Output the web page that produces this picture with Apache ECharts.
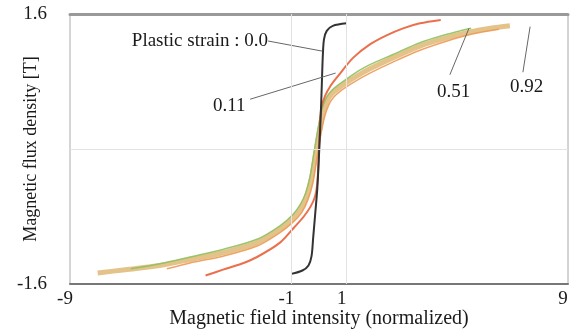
<!DOCTYPE html>
<html lang="en">
<head>
    <meta charset="utf-8">
    <title>Magnetization curves</title>
    <script type="text/javascript" src="https://cdn.jsdelivr.net/npm/echarts@6/dist/echarts.min.js"></script>
    <style>
        html, body { margin: 0; padding: 0; background: #fff; }
        #main { width: 576px; height: 336px; }
    </style>
</head>
<body>
<div id="main"></div>
<script>
    // tick labels shown on the axes
    var xTickLabels = [-9, -1, 1, 9];
    var yTickLabels = [-1.6, 1.6];

    // curves: [H (normalized), B (T)]
    var strain00 = [[-1.0, -1.48], [-0.6, -1.44], [-0.38, -1.38], [-0.27, -1.27], [-0.21, -1.05], [-0.14, -0.78],
        [-0.06, -0.46], [0.01, 0], [0.07, 0.46], [0.11, 0.85], [0.14, 1.12], [0.18, 1.3], [0.28, 1.4],
        [0.5, 1.46], [1.0, 1.49]];
    var strain011 = [[-4.1, -1.5], [-3.47, -1.43], [-2.8, -1.36], [-2.24, -1.28], [-1.41, -1.11], [-0.9, -0.93],
        [-0.55, -0.8], [-0.3, -0.68], [-0.14, -0.56], [-0.06, -0.4], [-0.01, -0.1], [0.03, 0.25], [0.08, 0.48],
        [0.22, 0.63], [0.42, 0.75], [0.7, 0.87], [1.23, 1.08], [1.84, 1.24], [2.46, 1.35], [3.04, 1.43],
        [3.65, 1.49], [4.4, 1.53]];
    var strain092 = [[-8.0, -1.47], [-7.0, -1.43], [-5.75, -1.38], [-4.66, -1.31], [-3.47, -1.23], [-2.24, -1.11],
        [-1.41, -0.95], [-0.95, -0.82], [-0.65, -0.7], [-0.45, -0.56], [-0.28, -0.36], [-0.12, -0.05],
        [0.02, 0.22], [0.14, 0.42], [0.28, 0.56], [0.45, 0.65], [0.7, 0.72], [1.0, 0.79], [1.4, 0.87],
        [1.84, 0.95], [2.67, 1.08], [3.65, 1.22], [4.63, 1.32], [5.5, 1.39], [6.2, 1.43], [6.9, 1.46]];
    var strain051 = [[-6.8, -1.42], [-5.75, -1.36], [-4.66, -1.28], [-3.47, -1.19], [-2.24, -1.07], [-1.41, -0.91],
        [-0.95, -0.78], [-0.68, -0.66], [-0.48, -0.52], [-0.32, -0.32], [-0.17, -0.02], [-0.03, 0.25],
        [0.1, 0.46], [0.25, 0.6], [0.45, 0.69], [0.7, 0.76], [1.0, 0.83], [1.4, 0.92], [1.84, 1.0],
        [2.67, 1.12], [3.65, 1.26], [4.63, 1.36], [5.1, 1.4], [5.5, 1.43]];
    var strainMid = [[-5.5, -1.42], [-4.66, -1.35], [-3.47, -1.27], [-2.24, -1.15], [-1.41, -0.99], [-0.95, -0.87],
        [-0.62, -0.75], [-0.4, -0.6], [-0.22, -0.4], [-0.07, -0.1], [0.07, 0.18], [0.2, 0.38], [0.35, 0.52],
        [0.52, 0.61], [0.75, 0.68], [1.0, 0.74], [1.4, 0.82], [1.84, 0.9], [2.67, 1.03], [3.65, 1.17],
        [4.63, 1.28], [5.5, 1.36], [6.5, 1.42]];

    // leader lines from the labels to the curves
    var ptr00 = [[-1.84, 1.28], [0.12, 1.16]];
    var ptr011 = [[-2.49, 0.59], [0.6, 0.9]];
    var ptr051 = [[4.73, 0.88], [5.42, 1.43]];
    var ptr092 = [[7.37, 0.91], [7.63, 1.45]];

    var serif = 'Liberation Serif';
    var chart = echarts.init(document.getElementById('main'));

    function curve(name, data, color, width, opacity) {
        return {
            name: name, type: 'line', data: data, showSymbol: false, smooth: 0.3,
            lineStyle: {color: color, width: width, opacity: opacity},
            silent: true
        };
    }

    function pointer(data) {
        return {
            type: 'line', data: data, showSymbol: false, silent: true,
            lineStyle: {color: '#666', width: 1}
        };
    }

    var band = curve('0.92', strain092, '#dcb46c', 5, 0.8);
    band.markLine = {
        silent: true, symbol: 'none', label: {show: false},
        lineStyle: {color: '#e2e2e2', width: 1, type: 'solid'},
        data: [{xAxis: -1}, {xAxis: 1}, {yAxis: 0}]
    };

    var option = {
        animation: false,
        grid: {
            left: 70, right: 8, top: 14, bottom: 52, outerBoundsMode: 'none',
            show: true, borderColor: '#aaa', borderWidth: 1
        },
        xAxis: [{
            type: 'value', min: -9, max: 9, interval: 1,
            name: 'Magnetic field intensity (normalized)', nameLocation: 'middle', nameGap: 25,
            nameMoveOverlap: false,
            nameTextStyle: {fontFamily: serif, fontSize: 20, color: '#1a1a1a'},
            axisLine: {show: true, onZero: false, lineStyle: {color: '#777', width: 2}},
            axisTick: {show: false},
            splitLine: {show: false},
            axisLabel: {
                fontFamily: serif, fontSize: 19, color: '#1a1a1a', margin: 6, padding: [0, 10, 0, 0],
                formatter: function (v) { return xTickLabels.indexOf(v) >= 0 ? String(v) : ''; }
            }
        }, {
            type: 'value', position: 'top', min: -9, max: 9,
            axisLine: {show: true, onZero: false, lineStyle: {color: '#999', width: 3}},
            axisTick: {show: false}, axisLabel: {show: false}, splitLine: {show: false}
        }],
        yAxis: {
            type: 'value', min: -1.6, max: 1.6, interval: 1.6,
            name: 'Magnetic flux density [T]', nameLocation: 'middle', nameGap: 30,
            nameMoveOverlap: false,
            nameTextStyle: {fontFamily: serif, fontSize: 18, color: '#1a1a1a'},
            axisLine: {show: false}, axisTick: {show: false}, splitLine: {show: false},
            axisLabel: {
                fontFamily: serif, fontSize: 19, color: '#1a1a1a', margin: 23,
                formatter: function (v) { return yTickLabels.indexOf(v) >= 0 ? String(v) : ''; }
            }
        },
        series: [
            band,
            curve('mid', strainMid, '#ec9a55', 1.5, 0.9),
            curve('0.51', strain051, '#8fc060', 1.5, 0.9),
            curve('0.11', strain011, '#e8603a', 2, 0.9),
            curve('0.0', strain00, '#333', 2, 1),
            pointer(ptr00), pointer(ptr011), pointer(ptr051), pointer(ptr092)
        ],
        graphic: [
            {type: 'text', right: 576 - 268, top: 32,
                style: {text: 'Plastic strain : 0.0', font: '19px "Liberation Serif"', fill: '#1a1a1a'}},
            {type: 'text', left: 213, top: 97,
                style: {text: '0.11', font: '19px "Liberation Serif"', fill: '#1a1a1a'}},
            {type: 'text', left: 437, top: 83,
                style: {text: '0.51', font: '19px "Liberation Serif"', fill: '#1a1a1a'}},
            {type: 'text', left: 510, top: 78,
                style: {text: '0.92', font: '19px "Liberation Serif"', fill: '#1a1a1a'}}
        ]
    };
    chart.setOption(option);
</script>
</body>
</html>
